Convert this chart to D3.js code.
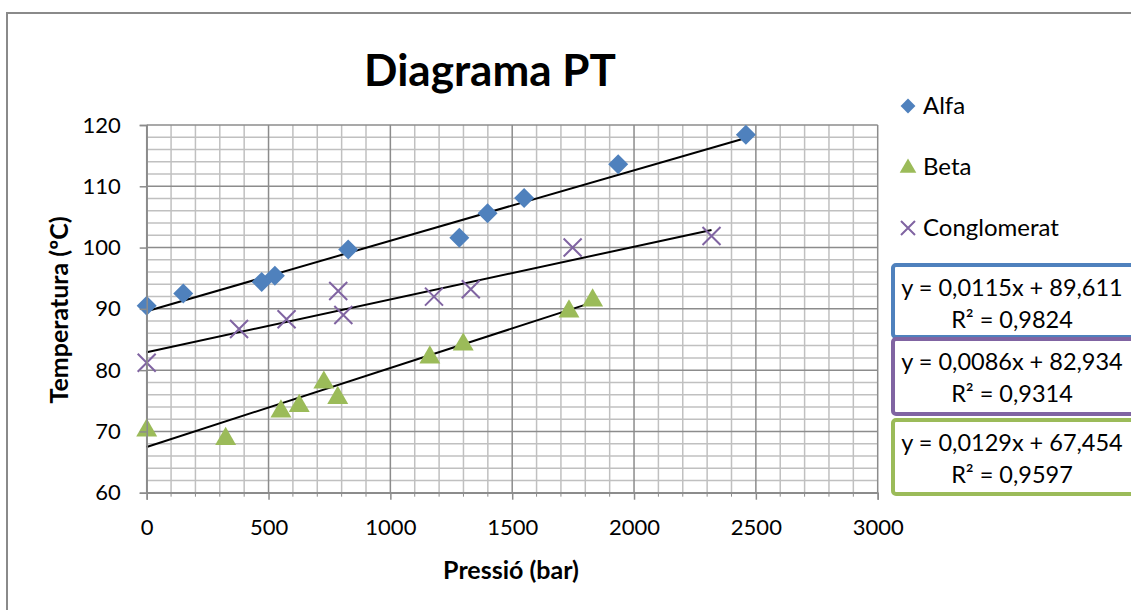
<!DOCTYPE html>
<html>
<head>
<meta charset="utf-8">
<script src="https://cdn.jsdelivr.net/npm/d3@7/dist/d3.min.js"></script>
<style>
  body { margin: 0; background: #fff; }
  svg { display: block; font-family: Lato, 'Open Sans', sans-serif; }
</style>
</head>
<body>
<svg id="chart" width="1131" height="610"></svg>
<script>
// data
const alfaP = [0, 150, 472, 526, 827, 1283, 1399, 1549, 1935, 2459];
const alfaT = [90.5, 92.5, 94.4, 95.4, 99.7, 101.6, 105.6, 108.1, 113.6, 118.4];
const betaP = [0, 324, 551, 626, 727, 784, 1162, 1299, 1733, 1830];
const betaT = [70.5, 69.1, 73.6, 74.5, 78.3, 75.8, 82.4, 84.5, 89.9, 91.7];
const conglP = [0, 379, 574, 786, 807, 1179, 1330, 1748, 2318];
const conglT = [81.2, 86.7, 88.3, 92.9, 89.0, 92.0, 93.2, 100.0, 101.9];

const seriesNames = ['Alfa', 'Beta', 'Conglomerat'];
const seriesColors = ['#4F81BD', '#9BBB59', '#8064A2'];
const slopes = [0.0115, 0.0129, 0.0086];
const intercepts = [89.611, 67.454, 82.934];
const eqTexts = ['y = 0,0115x + 89,611', 'y = 0,0086x + 82,934', 'y = 0,0129x + 67,454'];
const r2Texts = ['R² = 0,9824', 'R² = 0,9314', 'R² = 0,9597'];
const eqColors = ['#4F81BD', '#8064A2', '#9BBB59'];

const xTicks = [0, 500, 1000, 1500, 2000, 2500, 3000];
const yTicks = [60, 70, 80, 90, 100, 110, 120];

const svg = d3.select('#chart');

// outer chart frame (cut by the page edge)
svg.append('rect')
  .attr('x', 7).attr('y', 13)
  .attr('width', 1140).attr('height', 620)
  .attr('fill', 'none')
  .attr('stroke', '#8a8a8a')
  .attr('stroke-width', 2);

const x = d3.scaleLinear().domain([0, 3000]).range([146.7, 877.7]);
const y = d3.scaleLinear().domain([60, 120]).range([492.7, 125]);

const plot = svg.append('g');

// minor grid
const minorX = d3.range(0, 3001, 100).filter(v => v % 500 !== 0);
const minorY = d3.range(60, 121, 2).filter(v => v % 10 !== 0);
plot.selectAll('.mx').data(minorX).enter().append('line')
  .attr('x1', d => x(d)).attr('x2', d => x(d))
  .attr('y1', y(60)).attr('y2', y(120))
  .attr('stroke', '#c0c0c0').attr('stroke-width', 1.5);
plot.selectAll('.my').data(minorY).enter().append('line')
  .attr('x1', x(0)).attr('x2', x(3000))
  .attr('y1', d => y(d)).attr('y2', d => y(d))
  .attr('stroke', '#c0c0c0').attr('stroke-width', 1.5);

// major grid
plot.selectAll('.Mx').data(xTicks).enter().append('line')
  .attr('x1', d => x(d)).attr('x2', d => x(d))
  .attr('y1', y(60)).attr('y2', y(120))
  .attr('stroke', '#8c8c8c').attr('stroke-width', 1.5);
plot.selectAll('.My').data(yTicks).enter().append('line')
  .attr('x1', x(0)).attr('x2', x(3000))
  .attr('y1', d => y(d)).attr('y2', d => y(d))
  .attr('stroke', '#8c8c8c').attr('stroke-width', 1.5);

// axes
const xAxis = svg.append('g')
  .attr('transform', `translate(0, ${y(60)})`)
  .call(d3.axisBottom(x).tickValues(xTicks).tickSize(7).tickFormat(d3.format('d')));
xAxis.select('.domain').attr('stroke', '#8c8c8c').attr('stroke-width', 1.5);
xAxis.selectAll('.tick line').attr('stroke', '#8c8c8c').attr('stroke-width', 1.5);
xAxis.selectAll('.tick text')
  .attr('y', 27).attr('font-size', 22).attr('font-family', 'Lato').attr('fill', '#000');
xAxis.selectAll('.minor').data(minorX).enter().append('line')
  .attr('x1', d => x(d)).attr('x2', d => x(d))
  .attr('y1', 0).attr('y2', 4)
  .attr('stroke', '#8c8c8c').attr('stroke-width', 1);

const yAxis = svg.append('g')
  .attr('transform', `translate(${x(0)}, 0)`)
  .call(d3.axisLeft(y).tickValues(yTicks).tickSize(7));
yAxis.select('.domain').attr('stroke', '#8c8c8c').attr('stroke-width', 1.5);
yAxis.selectAll('.tick line').attr('stroke', '#8c8c8c').attr('stroke-width', 1.5);
yAxis.selectAll('.tick text')
  .attr('x', -26).attr('font-size', 22).attr('font-family', 'Lato').attr('fill', '#000');

// trend lines
const ranges = [[alfaP, alfaT], [betaP, betaT], [conglP, conglT]];
ranges.forEach((r, i) => {
  const x0 = d3.min(r[0]), x1 = d3.max(r[0]);
  plot.append('line')
    .attr('x1', x(x0)).attr('y1', y(slopes[i] * x0 + intercepts[i]))
    .attr('x2', x(x1)).attr('y2', y(slopes[i] * x1 + intercepts[i]))
    .attr('stroke', '#000').attr('stroke-width', 2);
});

// markers
const diamond = d3.symbol().type(d3.symbolSquare).size(200);
const tri = d3.symbol().type(d3.symbolTriangle).size(190);

plot.selectAll('.alfa').data(alfaP.map((p, i) => [p, alfaT[i]])).enter()
  .append('path')
  .attr('d', diamond)
  .attr('transform', d => `translate(${x(d[0])},${y(d[1])}) rotate(45)`)
  .attr('fill', seriesColors[0]);

plot.selectAll('.beta').data(betaP.map((p, i) => [p, betaT[i]])).enter()
  .append('path')
  .attr('d', tri)
  .attr('transform', d => `translate(${x(d[0])},${y(d[1]) + 2})`)
  .attr('fill', seriesColors[1]);

function cross(g, cx, cy, s) {
  g.append('path')
    .attr('d', `M${cx - s},${cy - s}L${cx + s},${cy + s}M${cx - s},${cy + s}L${cx + s},${cy - s}`)
    .attr('stroke', seriesColors[2]).attr('stroke-width', 2).attr('fill', 'none');
}
conglP.forEach((p, i) => cross(plot, x(p), y(conglT[i]), 9));

// title
svg.append('text')
  .attr('x', 490).attr('y', 86)
  .attr('text-anchor', 'middle')
  .attr('font-size', 44).attr('font-weight', 'bold')
  .text('Diagrama PT');

// axis titles
svg.append('text')
  .attr('x', 511).attr('y', 579)
  .attr('text-anchor', 'middle')
  .attr('font-size', 25).attr('font-weight', 'bold')
  .text('Pressió (bar)');
svg.append('text')
  .attr('transform', 'translate(68, 310) rotate(-90)')
  .attr('text-anchor', 'middle')
  .attr('font-size', 25).attr('font-weight', 'bold')
  .text('Temperatura (ºC)');

// legend
const legendY = [106, 167, 228];
const lg = svg.append('g');
lg.append('path').attr('d', d3.symbol().type(d3.symbolSquare).size(110))
  .attr('transform', `translate(908,${legendY[0]}) rotate(45)`).attr('fill', seriesColors[0]);
lg.append('path').attr('d', d3.symbol().type(d3.symbolTriangle).size(120))
  .attr('transform', `translate(908,${legendY[1] + 1})`).attr('fill', seriesColors[1]);
cross(lg, 908, legendY[2], 7);
seriesNames.forEach((n, i) => {
  lg.append('text')
    .attr('x', 923).attr('y', legendY[i] + 8)
    .attr('font-size', 24)
    .text(n);
});

// equation boxes
const boxTop = [265, 339, 420];
const boxH = [72, 75, 74];
boxTop.forEach((t, i) => {
  svg.append('rect')
    .attr('x', 893).attr('y', t)
    .attr('width', 260).attr('height', boxH[i])
    .attr('rx', 3)
    .attr('fill', '#fff')
    .attr('stroke', eqColors[i]).attr('stroke-width', 4);
  svg.append('text')
    .attr('x', 1012).attr('y', t + 31)
    .attr('text-anchor', 'middle').attr('font-size', 23.5)
    .text(eqTexts[i]);
  svg.append('text')
    .attr('x', 1012).attr('y', t + 63)
    .attr('text-anchor', 'middle').attr('font-size', 23.5)
    .text(r2Texts[i]);
});
</script>
</body>
</html>
